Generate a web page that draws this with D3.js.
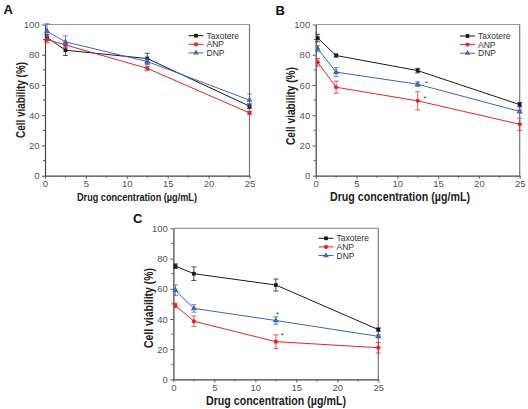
<!DOCTYPE html>
<html><head><meta charset="utf-8">
<script src="https://cdn.jsdelivr.net/npm/d3@7"></script>
<style>body{margin:0;background:#fff}svg{display:block}text{font-family:"Liberation Sans",Arial,sans-serif}</style>
</head><body><svg id="c" width="528" height="409"></svg>
<script>
const concentrations = [0.25, 2.5, 12.5, 25];
const seriesNames = ["Taxotere", "ANP", "DNP"];
const xTicks = [0, 5, 10, 15, 20, 25];
const yTicks = [0, 20, 40, 60, 80, 100];
const panelLabels = ["A", "B", "C"];

const taxotereA = [91.5, 83, 77.5, 46];
const anpA = [90, 86.5, 71, 41.5];
const dnpA = [95.5, 88.5, 75.5, 50];
const taxotereAErr = [2, 3.5, 3.5, 1.5];
const anpAErr = [2, 1.5, 1.5, 1];
const dnpAErr = [5, 4, 2, 4];

const taxotereB = [91, 79.5, 69.5, 47];
const anpB = [75, 58.5, 49.5, 34];
const dnpB = [84, 68.5, 60.5, 42.5];
const taxotereBErr = [2.5, 1, 1.5, 1.5];
const anpBErr = [2.5, 4, 6, 4];
const dnpBErr = [2, 3, 1.5, 1];

const taxotereC = [75, 70, 62.5, 33];
const anpC = [49, 38.5, 25, 21];
const dnpC = [59, 47, 39, 28.5];
const taxotereCErr = [1.5, 4.5, 4, 1];
const anpCErr = [1.5, 3.5, 4.5, 3.5];
const dnpCErr = [3.5, 2.5, 2.5, 1];

const starsB = [[13.6, 62], [13.4, 52]];
const starsC = [[12.7, 44], [13.3, 30]];

const colors = ["#1b1b1b", "#e3262b", "#4066b5"];
const shapes = [d3.symbolSquare, d3.symbolCircle, d3.symbolTriangle];

const panels = [
  {label: "A", l: 45, r: 249.5, t: 24.5, b: 175.7, data: [taxotereA, anpA, dnpA], err: [taxotereAErr, anpAErr, dnpAErr], stars: [], lx: 188.5, ly: 35.7, letterX: 3.5, letterY: 14, titleX: 77, titleW: 120, titleFs: 11.5, yTitleC: 100, yTitleW: 76},
  {label: "B", l: 315.7, r: 519.7, t: 24.5, b: 175.7, data: [taxotereB, anpB, dnpB], err: [taxotereBErr, anpBErr, dnpBErr], stars: starsB, lx: 460, ly: 36, letterX: 275.5, letterY: 15, titleX: 330, titleW: 140, titleFs: 12.5, yTitleC: 106, yTitleW: 78},
  {label: "C", l: 173.4, r: 378.3, t: 228.4, b: 379.4, data: [taxotereC, anpC, dnpC], err: [taxotereCErr, anpCErr, dnpCErr], stars: starsC, lx: 318.5, ly: 238.3, letterX: 133, letterY: 223, titleX: 206, titleW: 140, titleFs: 12.5, yTitleC: 308, yTitleW: 80}
];

const svg = d3.select("#c");

panels.forEach((p, pi) => {
  const x = d3.scaleLinear().domain([0, 25]).range([p.l, p.r]);
  const y = d3.scaleLinear().domain([0, 100]).range([p.b, p.t]);
  const g = svg.append("g");

  g.append("line").attr("x1", p.l).attr("x2", p.r).attr("y1", p.t).attr("y2", p.t).attr("stroke", "#999").attr("stroke-width", 1.2);
  g.append("line").attr("x1", p.r).attr("x2", p.r).attr("y1", p.t).attr("y2", p.b).attr("stroke", "#777").attr("stroke-width", 1.2);

  const xa = g.append("g").attr("transform", `translate(0,${p.b})`)
    .call(d3.axisBottom(x).tickValues(xTicks).tickSize(3).tickPadding(1.5).tickSizeOuter(0).tickFormat(d3.format("d")));
  xa.append("g").selectAll("line").data([2.5, 7.5, 12.5, 17.5, 22.5]).join("line")
    .attr("x1", d => x(d)).attr("x2", d => x(d)).attr("y1", 0).attr("y2", 2).attr("stroke", "#555");
  const ya = g.append("g").attr("transform", `translate(${p.l},0)`)
    .call(d3.axisLeft(y).tickValues(yTicks).tickSize(3).tickPadding(2.5).tickSizeOuter(0).tickFormat(d3.format("d")));
  ya.append("g").selectAll("line").data([10, 30, 50, 70, 90]).join("line")
    .attr("x1", 0).attr("x2", -2).attr("y1", d => y(d)).attr("y2", d => y(d)).attr("stroke", "#555");
  [xa, ya].forEach(a => {
    a.select(".domain").attr("stroke", "#444").attr("stroke-width", 1.2);
    a.selectAll(".tick line").attr("stroke", "#555");
    a.selectAll(".tick text").attr("fill", "#555").style("font-size", "9.5px").style("font-family", "Liberation Sans, Arial, sans-serif");
  });

  g.append("text").attr("x", p.titleX).attr("y", p.b + 25.2).attr("text-anchor", "start")
    .attr("textLength", p.titleW).attr("lengthAdjust", "spacingAndGlyphs")
    .attr("font-weight", "bold").attr("font-size", p.titleFs + "px").attr("fill", "#222").text("Drug concentration (µg/mL)");
  g.append("text").attr("transform", `translate(${p.l - 20.5},${p.yTitleC}) rotate(-90)`).attr("text-anchor", "middle")
    .attr("textLength", p.yTitleW).attr("lengthAdjust", "spacingAndGlyphs")
    .attr("font-weight", "bold").attr("font-size", "12px").attr("fill", "#222").text("Cell viability (%)");
  g.append("text").attr("x", p.letterX).attr("y", p.letterY).attr("font-weight", "bold").attr("font-size", "13px").attr("fill", "#111").text(p.label);

  p.data.forEach((vals, si) => {
    const pts = concentrations.map((c, i) => ({x: c, y: vals[i], e: p.err[si][i]}));
    const c = colors[si];
    g.append("path").datum(pts).attr("fill", "none").attr("stroke", c).attr("stroke-width", 1)
      .attr("d", d3.line().x(d => x(d.x)).y(d => y(d.y)));
    const eb = g.append("g").attr("stroke", c).attr("stroke-width", 0.9).attr("opacity", 0.85);
    pts.forEach(d => {
      eb.append("line").attr("x1", x(d.x)).attr("x2", x(d.x)).attr("y1", y(d.y - d.e)).attr("y2", y(d.y + d.e));
      eb.append("line").attr("x1", x(d.x) - 2.5).attr("x2", x(d.x) + 2.5).attr("y1", y(d.y - d.e)).attr("y2", y(d.y - d.e));
      eb.append("line").attr("x1", x(d.x) - 2.5).attr("x2", x(d.x) + 2.5).attr("y1", y(d.y + d.e)).attr("y2", y(d.y + d.e));
    });
    g.append("g").selectAll("path").data(pts).join("path")
      .attr("transform", d => `translate(${x(d.x)},${y(d.y)})`)
      .attr("d", d3.symbol().type(shapes[si]).size(si === 2 ? 16 : 14)).attr("fill", c);
  });

  g.selectAll(".star").data(p.stars).join("text").attr("x", d => x(d[0])).attr("y", d => y(d[1]) + 4)
    .attr("text-anchor", "middle").attr("font-size", "8px").attr("fill", "#444").text("*");

  seriesNames.forEach((n, si) => {
    const yy = p.ly + si * 8.6;
    g.append("line").attr("x1", p.lx).attr("x2", p.lx + 15).attr("y1", yy).attr("y2", yy).attr("stroke", colors[si]).attr("stroke-width", 1);
    g.append("path").attr("transform", `translate(${p.lx + 7.5},${yy})`).attr("d", d3.symbol().type(shapes[si]).size(14)).attr("fill", colors[si]);
    g.append("text").attr("x", p.lx + 18).attr("y", yy + 3).attr("font-size", "8.5px").attr("fill", "#333").text(n);
  });
});
</script></body></html>
